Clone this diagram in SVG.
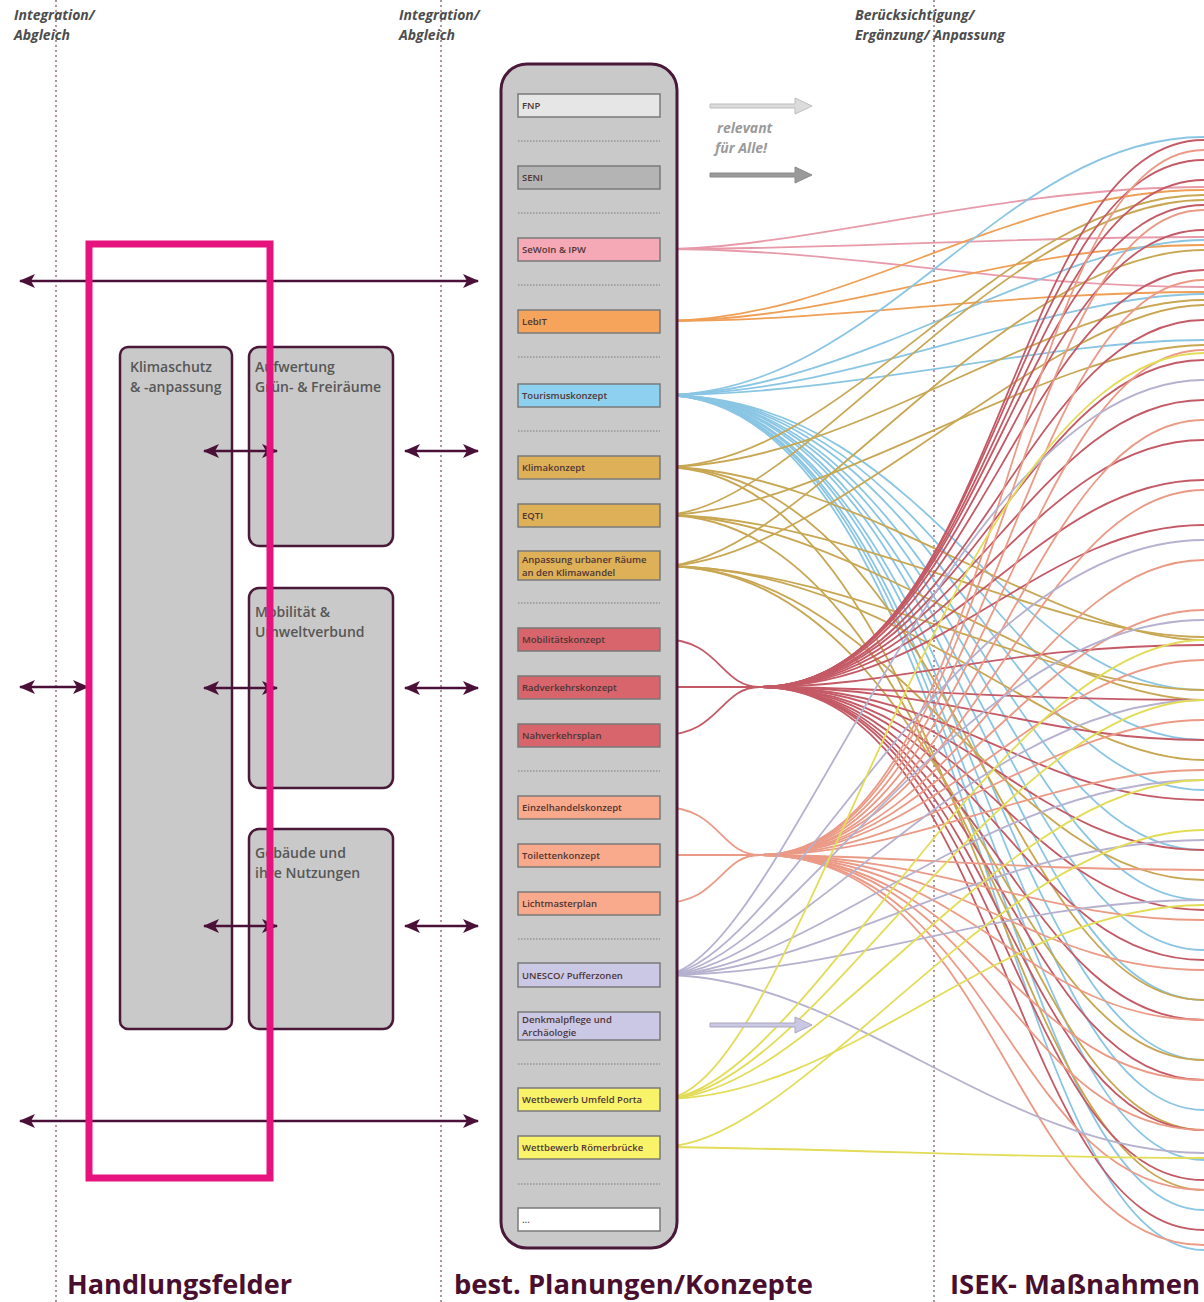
<svg xmlns="http://www.w3.org/2000/svg" width="1204" height="1302" viewBox="0 0 1204 1302">
<style>
.hdr{font-family:"Open Sans","Liberation Sans",sans-serif;font-size:14px;font-weight:700;font-style:italic;fill:#4d4d4d}
.rel{font-family:"Open Sans","Liberation Sans",sans-serif;font-size:14px;font-weight:700;font-style:italic;fill:#9a9a9a}
.hf{fill:#c9c9c9;stroke:#4a1838;stroke-width:2.5}
.hft{font-family:"Open Sans","Liberation Sans",sans-serif;font-size:14px;font-weight:600;fill:#575757}
.cb{stroke:#7a7a7a;stroke-width:1.5}
.ct{font-family:"Open Sans","Liberation Sans",sans-serif;font-size:9.5px;font-weight:600;fill:#4f3636}
.sep{stroke:#7a7a7a;stroke-width:1;stroke-dasharray:1.5 1.5}
.vd{stroke:#a07888;stroke-width:1.6;stroke-dasharray:2 3}
.ttl{font-family:"Open Sans","Liberation Sans",sans-serif;font-size:27px;font-weight:700;fill:#4a0f2e}
.arr{stroke:#4a1038;stroke-width:2.5;fill:none}
#connectors path{fill:none;stroke-width:1.8}
.pk{stroke:#e79aa9}.or{stroke:#ef9f55}.bl{stroke:#8ac6e3}.gd{stroke:#c8a753}.rd{stroke:#c45a66}.sa{stroke:#eb9a86}.lv{stroke:#b5b1cf}.ye{stroke:#e2dc57}
</style>
<defs>
<marker id="ah" viewBox="0 0 16 14" refX="15" refY="7" markerWidth="16" markerHeight="14" markerUnits="userSpaceOnUse" orient="auto-start-reverse">
<path d="M0,0 L16,7 L0,14 L4,7 z" fill="#4a1038"/>
</marker>
</defs>
<rect width="1204" height="1302" fill="#ffffff"/>

<g id="guides">
<line class="vd" x1="56" y1="0" x2="56" y2="1302"/>
<line class="vd" x1="441" y1="0" x2="441" y2="1302"/>
<line class="vd" x1="934" y1="0" x2="934" y2="1302"/>
</g>

<g id="headers">
<text class="hdr" x="14" y="20">Integration/</text>
<text class="hdr" x="14" y="40">Abgleich</text>
<text class="hdr" x="399" y="20">Integration/</text>
<text class="hdr" x="399" y="40">Abgleich</text>
<text class="hdr" x="855" y="20">Berücksichtigung/</text>
<text class="hdr" x="855" y="40">Ergänzung/ Anpassung</text>
</g>

<g id="connectors">
<path class="pk" d="M662 249 C800 249 1000 187 1204 187"/>
<path class="pk" d="M662 249 C850 249 1000 237 1204 237"/>
<path class="pk" d="M662 249 C850 249 1000 287 1204 287"/>
<path class="or" d="M662 321 C850 321 1000 190 1204 190"/>
<path class="or" d="M662 321 C850 321 1000 245 1204 245"/>
<path class="or" d="M662 321 C850 321 1000 292 1204 292"/>
<path class="bl" d="M662 395 C880 395 1000 137 1204 137"/>
<path class="bl" d="M662 395 C850 395 1050 240 1204 240"/>
<path class="bl" d="M662 395 C850 395 1050 294 1204 294"/>
<path class="bl" d="M662 395 C850 395 1050 340 1204 340"/>
<path class="bl" d="M662 395 C930 395 1000 690 1204 690"/>
<path class="bl" d="M662 395 C935 395 1000 740 1204 740"/>
<path class="bl" d="M662 395 C940 395 1000 790 1204 790"/>
<path class="bl" d="M662 395 C945 395 1000 850 1204 850"/>
<path class="bl" d="M662 395 C950 395 1000 900 1204 900"/>
<path class="bl" d="M662 395 C950 395 1000 950 1204 950"/>
<path class="bl" d="M662 395 C955 395 1000 1000 1204 1000"/>
<path class="bl" d="M662 395 C955 395 1000 1060 1204 1060"/>
<path class="bl" d="M662 395 C960 395 1000 1110 1204 1110"/>
<path class="bl" d="M662 395 C960 395 1000 1160 1204 1160"/>
<path class="bl" d="M662 395 C965 395 1000 1210 1204 1210"/>
<path class="bl" d="M662 395 C965 395 1000 1250 1204 1250"/>
<path class="gd" d="M662 467 C850 467 1000 195 1204 195"/>
<path class="gd" d="M662 467 C850 467 1050 300 1204 300"/>
<path class="gd" d="M662 467 C850 467 1050 640 1204 640"/>
<path class="gd" d="M662 467 C950 467 1000 1000 1204 1000"/>
<path class="gd" d="M662 467 C950 467 1000 1190 1204 1190"/>
<path class="gd" d="M662 515 C800 515 1000 200 1204 200"/>
<path class="gd" d="M662 515 C820 515 1050 345 1204 345"/>
<path class="gd" d="M662 515 C850 515 1050 637 1204 637"/>
<path class="gd" d="M662 515 C850 515 1050 700 1204 700"/>
<path class="gd" d="M662 515 C950 515 1000 1130 1204 1130"/>
<path class="gd" d="M662 566 C800 566 1000 250 1204 250"/>
<path class="gd" d="M662 566 C820 566 1050 305 1204 305"/>
<path class="gd" d="M662 566 C850 566 1050 690 1204 690"/>
<path class="gd" d="M662 566 C900 566 1050 760 1204 760"/>
<path class="gd" d="M662 566 C900 566 1000 880 1204 880"/>
<path class="gd" d="M662 566 C950 566 1000 1060 1204 1060"/>
<path class="rd" d="M662 639 C720 639 720 687 760 687"/>
<path class="rd" d="M662 687 L760 687"/>
<path class="rd" d="M662 735 C720 735 720 687 760 687"/>
<path class="rd" d="M760 687 C1000 687 1010 140 1204 140"/>
<path class="rd" d="M760 687 C995 687 1010 160 1204 160"/>
<path class="rd" d="M760 687 C990 687 1015 180 1204 180"/>
<path class="rd" d="M760 687 C985 687 1015 205 1204 205"/>
<path class="rd" d="M760 687 C980 687 1020 230 1204 230"/>
<path class="rd" d="M760 687 C975 687 1020 270 1204 270"/>
<path class="rd" d="M760 687 C970 687 1025 320 1204 320"/>
<path class="rd" d="M760 687 C965 687 1025 360 1204 360"/>
<path class="rd" d="M760 687 C960 687 1030 400 1204 400"/>
<path class="rd" d="M760 687 C955 687 1030 440 1204 440"/>
<path class="rd" d="M760 687 C950 687 1035 480 1204 480"/>
<path class="rd" d="M760 687 C945 687 1040 525 1204 525"/>
<path class="rd" d="M760 687 C900 687 1000 645 1204 645"/>
<path class="rd" d="M760 687 C900 687 1000 700 1204 700"/>
<path class="rd" d="M760 687 C950 687 1040 740 1204 740"/>
<path class="rd" d="M760 687 C960 687 1030 800 1204 800"/>
<path class="rd" d="M760 687 C970 687 1025 850 1204 850"/>
<path class="rd" d="M760 687 C975 687 1020 910 1204 910"/>
<path class="rd" d="M760 687 C980 687 1020 960 1204 960"/>
<path class="rd" d="M760 687 C985 687 1015 1020 1204 1020"/>
<path class="rd" d="M760 687 C990 687 1015 1080 1204 1080"/>
<path class="rd" d="M760 687 C995 687 1010 1130 1204 1130"/>
<path class="rd" d="M760 687 C1000 687 1010 1180 1204 1180"/>
<path class="rd" d="M760 687 C1000 687 1010 1230 1204 1230"/>
<path class="sa" d="M662 807 C720 807 720 855 760 855"/>
<path class="sa" d="M662 855 L760 855"/>
<path class="sa" d="M662 903 C720 903 720 855 760 855"/>
<path class="sa" d="M760 855 C1000 855 1010 150 1204 150"/>
<path class="sa" d="M760 855 C995 855 1010 210 1204 210"/>
<path class="sa" d="M760 855 C990 855 1015 280 1204 280"/>
<path class="sa" d="M760 855 C985 855 1020 350 1204 350"/>
<path class="sa" d="M760 855 C980 855 1025 420 1204 420"/>
<path class="sa" d="M760 855 C970 855 1030 490 1204 490"/>
<path class="sa" d="M760 855 C960 855 1035 560 1204 560"/>
<path class="sa" d="M760 855 C950 855 1040 610 1204 610"/>
<path class="sa" d="M760 855 C940 855 1045 660 1204 660"/>
<path class="sa" d="M760 855 C930 855 1050 720 1204 720"/>
<path class="sa" d="M760 855 C920 855 1050 770 1204 770"/>
<path class="sa" d="M760 855 C900 855 1000 870 1204 870"/>
<path class="sa" d="M760 855 C940 855 1040 920 1204 920"/>
<path class="sa" d="M760 855 C960 855 1030 970 1204 970"/>
<path class="sa" d="M760 855 C970 855 1025 1020 1204 1020"/>
<path class="sa" d="M760 855 C980 855 1020 1080 1204 1080"/>
<path class="sa" d="M760 855 C990 855 1015 1130 1204 1130"/>
<path class="sa" d="M760 855 C995 855 1010 1190 1204 1190"/>
<path class="sa" d="M760 855 C1000 855 1010 1245 1204 1245"/>
<path class="lv" d="M662 975 C780 975 950 380 1204 380"/>
<path class="lv" d="M662 975 C780 975 950 540 1204 540"/>
<path class="lv" d="M662 975 C790 975 960 620 1204 620"/>
<path class="lv" d="M662 975 C800 975 970 700 1204 700"/>
<path class="lv" d="M662 975 C810 975 980 780 1204 780"/>
<path class="lv" d="M662 975 C820 975 990 840 1204 840"/>
<path class="lv" d="M662 975 C850 975 1000 900 1204 900"/>
<path class="lv" d="M662 975 C850 975 1000 1153 1204 1153"/>
<path class="ye" d="M662 1099 C800 1099 950 353 1204 353"/>
<path class="ye" d="M662 1099 C800 1099 1000 640 1204 640"/>
<path class="ye" d="M662 1099 C810 1099 1000 700 1204 700"/>
<path class="ye" d="M662 1099 C820 1099 1000 780 1204 780"/>
<path class="ye" d="M662 1099 C850 1099 1000 905 1204 905"/>
<path class="ye" d="M662 1147 C800 1147 1000 830 1204 830"/>
<path class="ye" d="M662 1147 C900 1150 1000 1158 1204 1158"/>
</g>

<g id="relevant-note">
<path d="M710 104 L795 104 L795 98 L812 106 L795 114 L795 108 L710 108 Z" fill="#dcdcdc" stroke="#bdbdbd" stroke-width="1"/>
<text class="rel" x="717" y="133">relevant</text>
<text class="rel" x="715" y="153">für Alle!</text>
<path d="M710 173 L795 173 L795 167 L812 175 L795 183 L795 177 L710 177 Z" fill="#9a9a9a" stroke="#8a8a8a" stroke-width="1"/>
<path d="M710 1023 L795 1023 L795 1017 L812 1025 L795 1033 L795 1027 L710 1027 Z" fill="#cac8e2" stroke="#a9a7bf" stroke-width="1"/>
</g>

<g id="column">
<rect x="501" y="64" width="176" height="1184" rx="26" fill="#c9c9c9" stroke="#4a1838" stroke-width="3"/>
<line class="sep" x1="518" y1="141" x2="660" y2="141"/>
<line class="sep" x1="518" y1="213" x2="660" y2="213"/>
<line class="sep" x1="518" y1="285" x2="660" y2="285"/>
<line class="sep" x1="518" y1="357" x2="660" y2="357"/>
<line class="sep" x1="518" y1="431" x2="660" y2="431"/>
<line class="sep" x1="518" y1="603" x2="660" y2="603"/>
<line class="sep" x1="518" y1="771" x2="660" y2="771"/>
<line class="sep" x1="518" y1="939" x2="660" y2="939"/>
<line class="sep" x1="518" y1="1064" x2="660" y2="1064"/>
<line class="sep" x1="518" y1="1184" x2="660" y2="1184"/>
</g>

<g id="c-fnp"><rect class="cb" x="518" y="94" width="142" height="23" fill="#e6e6e6"/><text class="ct" x="522" y="109">FNP</text></g>
<g id="c-seni"><rect class="cb" x="518" y="166" width="142" height="23" fill="#b4b4b4"/><text class="ct" x="522" y="181">SENI</text></g>
<g id="c-sewoin"><rect class="cb" x="518" y="238" width="142" height="23" fill="#f5a9b6"/><text class="ct" x="522" y="253">SeWoIn &amp; IPW</text></g>
<g id="c-lebit"><rect class="cb" x="518" y="310" width="142" height="23" fill="#f6a45c"/><text class="ct" x="522" y="325">LebIT</text></g>
<g id="c-tourismus"><rect class="cb" x="518" y="384" width="142" height="23" fill="#8ed0ef"/><text class="ct" x="522" y="399">Tourismuskonzept</text></g>
<g id="c-klima"><rect class="cb" x="518" y="456" width="142" height="23" fill="#deb058"/><text class="ct" x="522" y="471">Klimakonzept</text></g>
<g id="c-eqti"><rect class="cb" x="518" y="504" width="142" height="23" fill="#deb058"/><text class="ct" x="522" y="519">EQTI</text></g>
<g id="c-anpassung"><rect class="cb" x="518" y="551" width="142" height="29" fill="#deb058"/><text class="ct" x="522" y="563">Anpassung urbaner Räume</text><text class="ct" x="522" y="576">an den Klimawandel</text></g>
<g id="c-mobil"><rect class="cb" x="518" y="628" width="142" height="23" fill="#d8646c"/><text class="ct" x="522" y="643">Mobilitätskonzept</text></g>
<g id="c-rad"><rect class="cb" x="518" y="676" width="142" height="23" fill="#d8646c"/><text class="ct" x="522" y="691">Radverkehrskonzept</text></g>
<g id="c-nahv"><rect class="cb" x="518" y="724" width="142" height="23" fill="#d8646c"/><text class="ct" x="522" y="739">Nahverkehrsplan</text></g>
<g id="c-einzel"><rect class="cb" x="518" y="796" width="142" height="23" fill="#f9a98c"/><text class="ct" x="522" y="811">Einzelhandelskonzept</text></g>
<g id="c-toilette"><rect class="cb" x="518" y="844" width="142" height="23" fill="#f9a98c"/><text class="ct" x="522" y="859">Toilettenkonzept</text></g>
<g id="c-licht"><rect class="cb" x="518" y="892" width="142" height="23" fill="#f9a98c"/><text class="ct" x="522" y="907">Lichtmasterplan</text></g>
<g id="c-unesco"><rect class="cb" x="518" y="963" width="142" height="24" fill="#cbc8e6"/><text class="ct" x="522" y="979">UNESCO/ Pufferzonen</text></g>
<g id="c-denkmal"><rect class="cb" x="518" y="1012" width="142" height="28" fill="#cbc8e6"/><text class="ct" x="522" y="1023">Denkmalpflege und</text><text class="ct" x="522" y="1036">Archäologie</text></g>
<g id="c-porta"><rect class="cb" x="518" y="1088" width="142" height="23" fill="#f9f36a"/><text class="ct" x="522" y="1103">Wettbewerb Umfeld Porta</text></g>
<g id="c-roemer"><rect class="cb" x="518" y="1136" width="142" height="23" fill="#f9f36a"/><text class="ct" x="522" y="1151">Wettbewerb Römerbrücke</text></g>
<g id="c-more"><rect class="cb" x="518" y="1208" width="142" height="23" fill="#ffffff"/><text class="ct" x="522" y="1223">...</text></g>

<g id="hf-klima"><rect class="hf" x="120" y="347" width="112" height="682" rx="8"/><text class="hft" x="130" y="372">Klimaschutz</text><text class="hft" x="130" y="392">&amp; -anpassung</text></g>
<g id="hf-gruen"><rect class="hf" x="249" y="347" width="144" height="199" rx="10"/><text class="hft" x="255" y="372">Aufwertung</text><text class="hft" x="255" y="392">Grün- &amp; Freiräume</text></g>
<g id="hf-mobil"><rect class="hf" x="249" y="588" width="144" height="200" rx="10"/><text class="hft" x="255" y="617">Mobilität &amp;</text><text class="hft" x="255" y="637">Umweltverbund</text></g>
<g id="hf-gebaeude"><rect class="hf" x="249" y="829" width="144" height="200" rx="10"/><text class="hft" x="255" y="858">Gebäude und</text><text class="hft" x="255" y="878">ihre Nutzungen</text></g>

<g id="arrows">
<line class="arr" x1="20" y1="281" x2="478" y2="281" marker-start="url(#ah)" marker-end="url(#ah)"/>
<line class="arr" x1="20" y1="1121" x2="478" y2="1121" marker-start="url(#ah)" marker-end="url(#ah)"/>
<line class="arr" x1="20" y1="687" x2="88" y2="687" marker-start="url(#ah)" marker-end="url(#ah)"/>
<line class="arr" x1="204" y1="451" x2="277" y2="451" marker-start="url(#ah)" marker-end="url(#ah)"/>
<line class="arr" x1="204" y1="688" x2="277" y2="688" marker-start="url(#ah)" marker-end="url(#ah)"/>
<line class="arr" x1="204" y1="926" x2="277" y2="926" marker-start="url(#ah)" marker-end="url(#ah)"/>
<line class="arr" x1="405" y1="451" x2="478" y2="451" marker-start="url(#ah)" marker-end="url(#ah)"/>
<line class="arr" x1="405" y1="688" x2="478" y2="688" marker-start="url(#ah)" marker-end="url(#ah)"/>
<line class="arr" x1="405" y1="926" x2="478" y2="926" marker-start="url(#ah)" marker-end="url(#ah)"/>
</g>

<g id="highlight">
<rect x="89" y="244" width="181" height="934" fill="none" stroke="#e6137e" stroke-width="7"/>
</g>

<g id="titles">
<text class="ttl" x="67" y="1294" textLength="225" lengthAdjust="spacingAndGlyphs">Handlungsfelder</text>
<text class="ttl" x="454" y="1294" textLength="359" lengthAdjust="spacingAndGlyphs">best. Planungen/Konzepte</text>
<text class="ttl" x="950" y="1294" textLength="250" lengthAdjust="spacingAndGlyphs">ISEK- Maßnahmen</text>
</g>
</svg>
